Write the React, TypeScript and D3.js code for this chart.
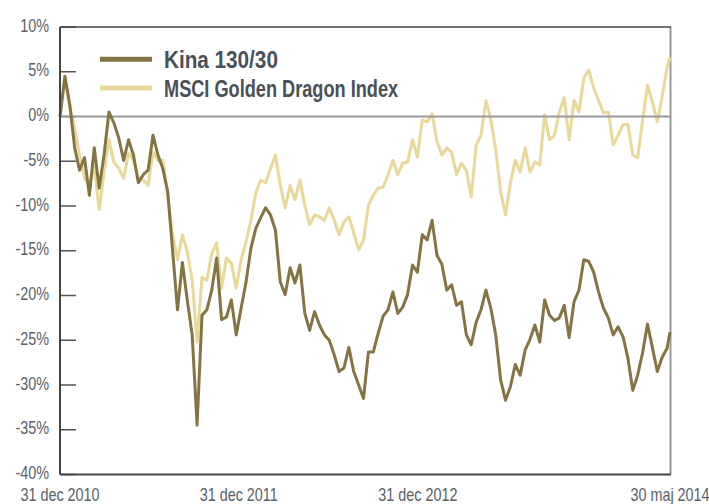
import React, { useEffect, useRef } from 'react';
import * as d3 from 'd3';

// sampled every 10 days from 31 dec 2010, last point 30 maj 2014
const startDate = new Date(2010, 11, 31);
const endDate = new Date(2014, 4, 30);

const kina = [
  0.0, 4.5, 1.3, -3.5, -6.0, -4.6, -8.8, -3.5, -8.0, -4.3,
  0.5, -0.7, -2.4, -4.9, -2.6, -4.3, -7.4, -6.5, -6.0, -2.1,
  -4.3, -5.8, -8.4, -15.0, -21.6, -16.3, -20.5, -24.4, -34.5, -22.2,
  -21.6, -19.4, -15.8, -22.7, -22.4, -20.5, -24.4, -21.4, -18.5, -14.7,
  -12.5, -11.3, -10.2, -11.0, -12.7, -18.5, -19.9, -16.9, -18.6, -16.6,
  -22.0, -23.9, -21.8, -23.3, -24.4, -25.0, -26.6, -28.5, -28.1, -25.8,
  -28.5, -30.0, -31.5, -26.3, -26.3, -24.2, -22.3, -21.6, -19.6, -22.0,
  -21.3, -19.9, -16.6, -17.4, -13.2, -13.8, -11.6, -15.5, -16.5, -19.4,
  -18.8, -21.1, -20.7, -24.4, -25.5, -23.0, -21.6, -19.4, -21.4, -24.4,
  -29.4, -31.7, -30.2, -27.7, -28.9, -26.1, -24.9, -23.3, -25.2, -20.5,
  -22.2, -22.8, -22.5, -21.1, -24.7, -20.7, -19.4, -16.0, -16.2, -17.4,
  -19.6, -21.4, -22.5, -24.4, -23.5, -24.6, -27.0, -30.6, -28.9, -26.4,
  -23.2, -25.8, -28.5, -26.9, -25.9, -24.1,
];

const msci = [
  0.0, 4.3, 1.1, -1.3, -4.3, -6.9, -7.7, -5.6, -10.4, -6.2,
  -2.6, -5.1, -5.8, -6.9, -4.1, -4.9, -6.8, -7.1, -7.7, -4.0,
  -4.9, -4.9, -8.8, -13.2, -16.0, -13.2, -15.1, -18.3, -25.2, -18.0,
  -18.3, -15.3, -14.1, -19.2, -15.8, -16.4, -19.2, -16.0, -14.0, -11.6,
  -8.5, -7.1, -7.4, -5.8, -4.3, -7.7, -10.2, -7.7, -9.3, -7.1,
  -9.9, -12.1, -11.0, -11.2, -11.6, -10.2, -11.6, -13.2, -11.8, -11.2,
  -13.0, -14.9, -13.8, -9.9, -8.8, -8.0, -7.9, -6.5, -4.9, -6.5,
  -5.2, -5.1, -2.6, -4.5, -0.4, -0.6, 0.3, -2.8, -4.3, -3.5,
  -4.0, -6.5, -5.2, -6.0, -9.0, -3.2, -2.1, 1.8, -0.4, -3.7,
  -8.4, -11.0, -7.4, -4.9, -6.2, -3.5, -6.2, -5.1, -5.4, 0.2,
  -2.6, -2.1, 0.5, 2.1, -2.6, 1.8, 0.5, 4.3, 5.2, 3.2,
  1.8, 0.4, 0.5, -3.2, -2.1, -0.9, -0.9, -4.3, -4.6, -0.4,
  3.5, 1.6, -0.6, 2.2, 5.5, 6.6,
];

const dates = kina.map((_, i) =>
  i === kina.length - 1 ? endDate : d3.timeDay.offset(startDate, i * 10)
);

const yTicks = [10, 5, 0, -5, -10, -15, -20, -25, -30, -35, -40];
const xTicks = [
  { date: new Date(2010, 11, 31), label: '31 dec 2010' },
  { date: new Date(2011, 11, 31), label: '31 dec 2011' },
  { date: new Date(2012, 11, 31), label: '31 dec 2012' },
  { date: new Date(2014, 4, 30), label: '30 maj 2014' },
];

const seriesNames = ['Kina 130/30', 'MSCI Golden Dragon Index'];
const kinaColor = '#857443';
const msciColor = '#e8d99b';
const font = '"Liberation Sans", Arial, sans-serif';
const squeeze = 0.8; // condensed look

const App = () => {
  const ref = useRef<SVGSVGElement | null>(null);

  useEffect(() => {
    if (!ref.current) return;
    const svg = d3.select(ref.current);
    svg.selectAll('*').remove();

    const left = 60;
    const right = 670;
    const top = 27;
    const bottom = 474.5;

    const x = d3.scaleTime().domain([startDate, endDate]).range([left, right]);
    const y = d3.scaleLinear().domain([-40, 10]).range([bottom, top]);

    const line = (values: number[]) =>
      d3
        .line<number>()
        .x((_, i) => x(dates[i]))
        .y((d) => y(d))(values);

    // right border
    svg.append('line')
      .attr('x1', right + 0.5).attr('x2', right + 0.5)
      .attr('y1', top).attr('y2', bottom)
      .attr('stroke', '#999').attr('stroke-width', 2);

    // y ticks
    svg.append('g')
      .selectAll('line')
      .data(yTicks)
      .join('line')
      .attr('x1', left).attr('x2', left + 16)
      .attr('y1', (d) => y(d)).attr('y2', (d) => y(d))
      .attr('stroke', '#555').attr('stroke-width', 1.5);

    svg.append('g')
      .selectAll('text')
      .data(yTicks)
      .join('text')
      .attr('transform', (d) => `translate(49,${y(d) + 4.5}) scale(${squeeze},1)`)
      .attr('text-anchor', 'end')
      .style('font-family', font)
      .style('font-size', '18px')
      .attr('fill', '#5b6168')
      .text((d) => `${d}%`);

    // series
    svg.append('path')
      .attr('d', line(msci))
      .attr('fill', 'none')
      .attr('stroke', msciColor)
      .attr('stroke-width', 3)
      .attr('stroke-linejoin', 'round');

    svg.append('line')
      .attr('x1', left).attr('x2', right)
      .attr('y1', y(0)).attr('y2', y(0))
      .attr('stroke', '#999').attr('stroke-width', 2);

    svg.append('path')
      .attr('d', line(kina))
      .attr('fill', 'none')
      .attr('stroke', kinaColor)
      .attr('stroke-width', 3)
      .attr('stroke-linejoin', 'round');

    // frame
    svg.append('line')
      .attr('x1', left).attr('x2', right + 1)
      .attr('y1', top).attr('y2', top)
      .attr('stroke', '#444').attr('stroke-width', 1.5);
    svg.append('line')
      .attr('x1', left).attr('x2', left)
      .attr('y1', top).attr('y2', bottom)
      .attr('stroke', '#444').attr('stroke-width', 2);
    svg.append('line')
      .attr('x1', left).attr('x2', right + 1)
      .attr('y1', bottom).attr('y2', bottom)
      .attr('stroke', '#444').attr('stroke-width', 2);

    // x labels
    svg.append('g')
      .selectAll('text')
      .data(xTicks)
      .join('text')
      .attr('transform', (d) => `translate(${x(d.date)},501) scale(${squeeze},1)`)
      .attr('text-anchor', 'middle')
      .style('font-family', font)
      .style('font-size', '18px')
      .attr('fill', '#5b6168')
      .text((d) => d.label);

    // legend
    const legend = svg.append('g');
    [kinaColor, msciColor].forEach((c, i) => {
      legend.append('line')
        .attr('x1', 100).attr('x2', 152)
        .attr('y1', 59.3 + i * 28.7).attr('y2', 59.3 + i * 28.7)
        .attr('stroke', c).attr('stroke-width', 5);
      legend.append('text')
        .attr('transform', `translate(164,${68.3 + i * 28.7}) scale(${i === 0 ? 0.9 : 0.79},1)`)
        .style('font-family', font)
        .style('font-size', '23px')
        .style('font-weight', 'bold')
        .attr('fill', '#4a5058')
        .text(seriesNames[i]);
    });
  }, []);

  return (
    <svg
      ref={ref}
      width={709}
      height={504}
      style={{ position: 'absolute', left: 0, top: 0, background: '#fff' }}
    />
  );
};

export default App;
